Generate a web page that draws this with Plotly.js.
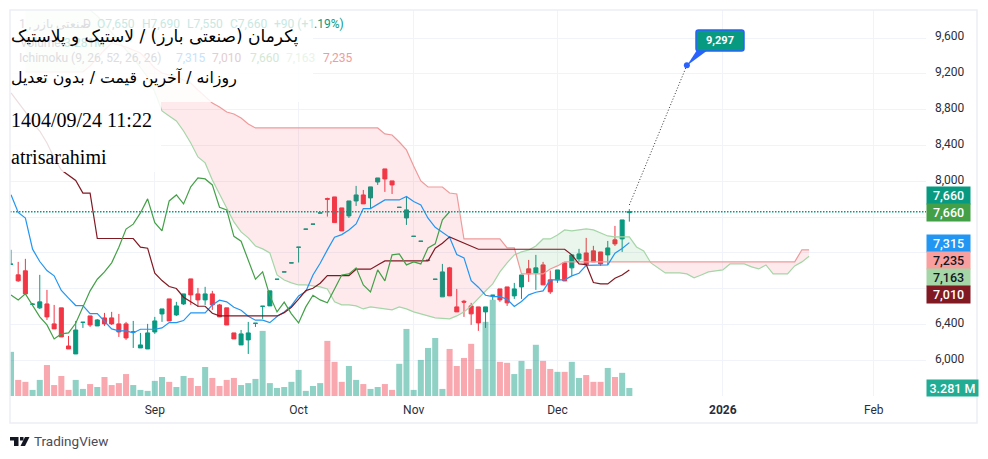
<!DOCTYPE html>
<html><head><meta charset="utf-8">
<script src="https://cdn.plot.ly/plotly-3.0.1.min.js"></script>
<style>html,body{margin:0;padding:0;background:#fff}#c{width:988px;height:459px}</style>
</head><body><div id="c"></div>
<script>
const open_ = [7073,6955,7000,6626,6586,6630,6407,6586,6160,6071,6424,6496,6384,6474,6474,6407,6407,6316,6138,6127,6317,6518,6686,6507,6630,6910,6742,6675,6742,6619,6586,6306,6172,6228,6413,6603,6608,6905,6987,7088,7263,7465,7521,7646,7808,7826,7703,7614,7781,7848,7815,7993,8139,8005,7709,7591,7385,7330,7117,6905,6709,7033,6597,6660,6608,6597,6541,6726,6798,6820,6720,6820,7022,6977,7066,6899,6899,7089,7033,7133,7200,7223,7211,7178,7346,7357,7650];
const high = [7235,7100,7134,6640,6955,6787,6619,6586,6272,6440,6425,6496,6462,6530,6541,6518,6429,6440,6306,6407,6485,6574,6686,6653,6742,6910,6809,6821,6776,6630,6586,6306,6339,6429,6414,6604,6776,6906,6988,7089,7264,7466,7522,7647,7818,7826,7703,7781,7949,7904,7938,8038,8139,8005,7710,7830,7386,7331,7118,6906,7077,7044,6798,6675,6642,6597,6597,6727,6798,6820,6865,6954,7122,7178,7100,7003,7010,7089,7178,7245,7368,7279,7211,7334,7502,7569,7690];
const low = [7073,6877,6742,6620,6574,6451,6351,6261,6127,6071,6362,6373,6384,6384,6395,6261,6228,6138,6138,6127,6295,6429,6440,6496,6619,6619,6597,6619,6563,6485,6395,6239,6172,6071,6373,6462,6608,6905,6987,7088,7093,7465,7521,7646,7606,7539,7446,7591,7725,7748,7692,7960,7882,7859,7709,7513,7385,7330,7117,6905,6709,6720,6541,6485,6396,6329,6362,6675,6653,6608,6686,6686,6876,6787,6843,6742,6865,6887,6943,7100,7066,7100,7055,7066,7278,7211,7550];
const close_ = [7074,6888,6742,6627,6653,6485,6351,6261,6127,6339,6425,6395,6451,6407,6407,6317,6250,6317,6172,6306,6440,6574,6440,6608,6742,6731,6675,6742,6619,6485,6395,6239,6295,6306,6414,6604,6776,6906,6988,7089,7264,7466,7522,7647,7800,7539,7446,7781,7848,7748,7938,8038,8027,7960,7710,7681,7386,7331,7118,6906,6988,6720,6541,6650,6519,6418,6597,6727,6675,6642,6798,6954,6966,7033,6843,6765,7010,6887,7178,7189,7066,7100,7077,7256,7301,7569,7660];
const volumeM = [18.1,6.6,5.8,2.5,6.6,12.7,4.5,8.2,2.5,6.6,2.9,4.9,3.7,7.8,4.5,5.3,9.0,4.5,2.5,2.1,6.2,7.8,5.8,3.7,8.2,7.4,4.1,11.9,7.4,4.1,6.6,7.4,4.5,5.3,7.0,26.7,5.3,3.3,3.7,5.8,10.7,2.1,4.1,5.3,22.6,14.0,5.8,12.3,6.6,4.9,2.9,3.7,4.9,2.5,13.2,27.5,2.5,14.8,19.7,23.8,2.9,19.3,12.3,15.6,21.4,11.1,30.4,39.5,14.0,13.6,9.0,14.4,11.1,21.0,14.4,11.1,9.9,9.9,14.0,7.4,8.6,5.8,5.8,11.5,7.8,9.5,3.281];
const tenkan = [7850,7652,7589,7242,7104,7003,6944,6780,6694,6612,6612,6522,6522,6433,6351,6328,6328,6306,6347,6347,6347,6362,6421,6421,6444,6530,6530,6530,6619,6671,6653,6593,6559,6492,6448,6448,6421,6490,6540,6610,6720,6768,6954,7085,7234,7375,7405,7457,7524,7696,7696,7744,7792,7792,7792,7830,7774,7737,7588,7487,7427,7375,7182,7144,6891,6817,6727,6712,6712,6683,6601,6657,6731,6761,6776,6899,6899,6899,6943,6973,7062,7062,7062,7066,7197,7249,7315];
const kijun = [8988,8887,8776,8652,8562,8429,8261,8127,8072,8010,7869,7869,7361,7361,7361,7361,7361,7361,7264,7253,6973,6891,6824,6802,6705,6653,6604,6604,6526,6496,6496,6496,6496,6496,6496,6496,6496,6496,6533,6593,6683,6779,6805,6861,6947,6947,6947,6947,7018,7018,7018,7066,7111,7111,7111,7111,7111,7111,7111,7252,7308,7379,7345,7316,7278,7241,7241,7241,7241,7241,7241,7241,7241,7241,7241,7241,7241,7241,7178,7077,7070,6869,6854,6854,6917,6954,7010];
const chikou = [6731,6675,6742,6619,6485,6395,6239,6295,6306,6414,6604,6776,6906,6988,7089,7264,7466,7522,7647,7804,7539,7446,7781,7848,7748,7938,8038,8027,7960,7710,7681,7386,7331,7118,6906,6988,6720,6541,6650,6519,6418,6597,6727,6675,6642,6798,6954,6966,7033,6843,6765,7010,6887,7178,7189,7066,7100,7077,7256,7301,7569,7660];
const leadA = [9971,9971,9971,9971,9971,9971,9971,9971,9971,9915,9848,9759,9658,9557,9468,9379,9278,9166,8999,8787,8731,8675,8563,8429,8273,8206,8016,7859,7692,7546,7435,7368,7278,7245,7200,6954,6898,6865,6842,6842,6831,6820,6798,6653,6619,6619,6608,6574,6597,6586,6574,6563,6597,6574,6541,6518,6496,6474,6468,6463,6496,6541,6608,6686,6775,6854,6988,7088,7178,7211,7233,7278,7356,7356,7401,7457,7446,7457,7468,7457,7424,7390,7379,7379,7379,7267,7222,7088,7032,6977,6977,6977,6965,6921,6954,6988,6999,7010,7077,7077,7077,7044,7021,7066,6965,6965,6965,7055,7100,7163];
const leadB = [9222,9222,9222,9222,9222,9222,9222,9222,9222,9289,9379,9468,9546,9524,9502,9468,9435,9356,9267,9211,9189,9166,9133,9099,9021,8943,8876,8831,8775,8753,8708,8641,8597,8597,8597,8597,8597,8597,8597,8597,8597,8597,8597,8597,8597,8597,8597,8597,8597,8597,8530,8518,8440,8351,8172,8004,7937,7937,7937,7870,7859,7356,7356,7356,7356,7356,7356,7256,7256,6965,6965,6965,6965,7021,7055,7100,7100,7100,7100,7100,7100,7100,7100,7100,7100,7100,7100,7100,7100,7100,7100,7100,7100,7100,7100,7100,7100,7100,7100,7100,7100,7100,7100,7100,7100,7100,7100,7100,7235,7235];
const leadStart = 2;
const priceTicks = [6000,6400,6800,7200,7600,8000,8400,8800,9200,9600];
const priceTickText = ['6,000','6,400','','','','8,000','8,400','8,800','9,200','9,600'];
const timeTickPos = [20,40,56,76,99,120];
const timeTickText = ['Sep','Oct','Nov','Dec','<b>2026</b>','Feb'];
const lastPrice = 7660;
const targetPrice = 9297;
const targetBar = 94;
const lineStartPrice = 7736;
const titleLines = ['پکرمان (صنعتی بارز) / لاستیک و پلاستیک','روزانه / آخرین قیمت / بدون تعدیل','1404/09/24 11:22','atrisarahimi'];

const W=988,H=459,L=10,R=926,T=10,B=396;
const px=x=>(x-L)/(R-L), py=y=>(B-y)/(B-T);
const UP='#089981',DN='#F23645';
const idx=close_.map((_,i)=>i);

// cloud polygons, split at the crossings of the two leading spans
function cloudPolys(){
  const polys=[];let cur=null,sign=0;
  for(let k=0;k<leadA.length;k++){
    const s=leadA[k]>=leadB[k]?1:-1,x=k+leadStart;
    if(s!==sign){
      let entry=null;
      if(cur){
        const d0=leadA[k-1]-leadB[k-1],d1=leadA[k]-leadB[k],t=d0/(d0-d1);
        const xx=x-1+t,yy=leadA[k-1]+t*(leadA[k]-leadA[k-1]);
        cur.xa.push(xx);cur.ya.push(yy);cur.xb.push(xx);cur.yb.push(yy);polys.push(cur);entry=[xx,yy];
      }
      cur={s:s,xa:[],ya:[],xb:[],yb:[]};
      if(entry){cur.xa.push(entry[0]);cur.ya.push(entry[1]);cur.xb.push(entry[0]);cur.yb.push(entry[1]);}
      sign=s;
    }
    cur.xa.push(x);cur.ya.push(leadA[k]);cur.xb.push(x);cur.yb.push(leadB[k]);
  }
  polys.push(cur);return polys;
}
const leadX=leadA.map((_,k)=>k+leadStart);
const line=(x,y,c)=>({type:'scatter',mode:'lines',x:x,y:y,yaxis:'y2',line:{color:c,width:1.2},hoverinfo:'skip',showlegend:false});

const traces=[{type:'bar',x:idx,y:volumeM,yaxis:'y',width:0.84,
  marker:{color:idx.map(i=>close_[i]>=open_[i]?'rgba(8,153,129,0.45)':'rgba(242,54,69,0.43)'),line:{width:0}},hoverinfo:'skip',showlegend:false}];
cloudPolys().forEach(p=>traces.push({type:'scatter',mode:'none',x:p.xa.concat(p.xb.slice().reverse()),y:p.ya.concat(p.yb.slice().reverse()),yaxis:'y2',fill:'toself',
  fillcolor:p.s>0?'rgba(67,160,71,0.11)':'rgba(244,67,84,0.11)',hoverinfo:'skip',showlegend:false}));
traces.push(line(leadX,leadA,'#A5D6A7'),line(leadX,leadB,'#EF9A9A'));
traces.push({type:'candlestick',x:idx,open:open_,high:high,low:low,close:close_,yaxis:'y2',
  increasing:{line:{color:UP,width:1},fillcolor:UP},decreasing:{line:{color:DN,width:1},fillcolor:DN},hoverinfo:'skip',showlegend:false});
traces.push(line(idx,tenkan,'#2196F3'),line(idx,kijun,'#801922'),line(chikou.map((_,i)=>i),chikou,'#43A047'));
traces.push({type:'scatter',mode:'lines',x:[idx.length-1,targetBar],y:[lineStartPrice,targetPrice],yaxis:'y2',line:{color:'#333',width:1,dash:'1px,2px'},hoverinfo:'skip',showlegend:false});
traces.push({type:'scatter',mode:'markers',x:[targetBar],y:[targetPrice],yaxis:'y2',marker:{color:'#2962FF',size:6},hoverinfo:'skip',showlegend:false});

// shape helpers in page pixels
const P=(pts)=>'M'+pts.map(p=>px(p[0])+','+py(p[1])).join(' L')+' Z';
const rect=(x0,y0,x1,y1,o)=>Object.assign({type:'rect',xref:'paper',yref:'paper',x0:px(x0),x1:px(x1),y0:py(y1),y1:py(y0),line:{width:0},layer:'above'},o);
const path=(d,fill,o)=>Object.assign({type:'path',xref:'paper',yref:'paper',path:d,fillcolor:fill,line:{width:0},layer:'above'},o||{});
function rounded(x0,y0,x1,y1,r){
  return 'M'+px(x0+r)+','+py(y0)+' L'+px(x1-r)+','+py(y0)+' Q'+px(x1)+','+py(y0)+' '+px(x1)+','+py(y0+r)+' L'+px(x1)+','+py(y1-r)+' Q'+px(x1)+','+py(y1)+' '+px(x1-r)+','+py(y1)+' L'+px(x0+r)+','+py(y1)+' Q'+px(x0)+','+py(y1)+' '+px(x0)+','+py(y1-r)+' L'+px(x0)+','+py(y0+r)+' Q'+px(x0)+','+py(y0)+' '+px(x0+r)+','+py(y0)+' Z';
}
const shapes=[
  rect(10,10,313,102,{fillcolor:'rgba(255,255,255,0.85)'}),
  rect(10,102,161,172,{fillcolor:'rgba(255,255,255,0.85)'}),
  {type:'line',xref:'paper',yref:'y2',x0:0,x1:1,y0:lastPrice,y1:lastPrice,line:{color:UP,width:1.4,dash:'1.5px,1.5px'},layer:'above'},
  rect(10,10,977,423,{fillcolor:'rgba(0,0,0,0)',line:{color:'#eceef5',width:1.5}}),
  path(P([[697,50],[708,50],[687,65.5]]),'#2962FF'),
  path(rounded(696,30,744,51,2.5),UP,{line:{color:'#2962FF',width:1.5}}),
  // TradingView mark
  path(P([[10,437],[18.5,437],[18.5,446],[14,446],[14,440.5],[10,440.5]]),'#131722'),
  path(P([[20,437],[23.5,437],[23.5,440.5],[20,440.5]]),'#131722'),
  path(P([[25,437],[29.5,437],[25,446],[20.5,446]]),'#131722')
];
const F='Roboto, sans-serif';
const note=(x,y,text,color,size,o)=>Object.assign({xref:'paper',yref:'paper',x:px(x),y:py(y),text:text,showarrow:false,xanchor:'left',yanchor:'middle',borderpad:0,font:{family:F,size:size,color:color}},o||{});
const badge=(y0,y1,text,bg,fg,x1)=>({xref:'paper',yref:'paper',x:px(926),y:py((y0+y1)/2),xanchor:'left',yanchor:'middle',width:(x1||969)-926,height:y1-y0,bgcolor:bg,borderpad:0,align:'center',valign:'middle',showarrow:false,text:text,font:{family:F,size:12.5,color:fg,weight:500}});
const annotations=[
  // faded legend rows
  note(18,24,'1 , صنعتی بازر','#dcdde1',12),note(82,24,'D','#dcdde1',12),
  note(96,24,'O7,650','#c8e8e2',12),note(141,24,'H7,690','#c8e8e2',12),note(186,24,'L7,550','#c8e8e2',12),note(229,24,'C7,660','#c8e8e2',12),
  note(273,24,'+90 (+1','#c8e8e2',12),note(313,24,'.19%)',UP,12),
  note(19,43,'Volume','#dcdde1',12),note(63,43,'3.281M','#c8e8e2',12),
  note(18,58,'Ichimoku (9, 26, 52, 26, 26)','#dcdde1',12),
  note(175,58,'7,315','#c7e3fb',12),note(211,58,'7,010','#e3cdcf',12),note(249,58,'7,660','#d3e8d4',12),note(285,58,'7,163','#e9f4e9',12),note(322,58,'7,235','#f29b9b',12),
  // title block
  note(10,36,titleLines[0],'#000',17,{font:{family:'DejaVu Sans',size:17,color:'#000'}}),
  note(10,78,titleLines[1],'#000',16,{font:{family:'DejaVu Sans',size:15.8,color:'#000'}}),
  note(10,120,titleLines[2],'#000',20,{font:{family:'Liberation Serif',size:20,color:'#000'}}),
  note(10,157,titleLines[3],'#000',20,{font:{family:'Liberation Serif',size:20,color:'#000'}}),
  // target tag
  {xref:'paper',yref:'paper',x:px(720),y:py(40.5),xanchor:'center',yanchor:'middle',text:'9,297',showarrow:false,font:{family:F,size:11,color:'#fff',weight:700}},
  // axis badges
  badge(187,204,'7,660',UP,'#fff'),
  badge(204,221,'7,660','#43A047','#fff'),
  badge(235,252,'7,315','#2196F3','#fff'),
  badge(252,269,'7,235','#FA9F9F','#131722'),
  badge(269,286,'7,163','#A5D6A7','#131722'),
  badge(286,303,'7,010','#801922','#fff'),
  badge(380,396,'3.281 M','#22AC94','#fff',977),
  note(33,441,'TradingView','#4a4c55',13.5)
];
Plotly.newPlot('c',traces,{
  width:W,height:H,autosize:false,paper_bgcolor:'#fff',plot_bgcolor:'#fff',showlegend:false,
  margin:{l:L,r:W-R,t:T,b:H-B,pad:0},boxgap:0.2,
  xaxis:{range:[-0.14,127.26],tickmode:'array',tickvals:timeTickPos,ticktext:timeTickText,showgrid:true,gridcolor:'#f0f3fa',gridwidth:1,zeroline:false,showline:false,ticks:'',rangeslider:{visible:false},tickfont:{family:F,size:12,color:'#2a2e39'},ticklabelstandoff:5,fixedrange:true},
  yaxis:{range:[0,158.3],showgrid:false,zeroline:false,showticklabels:false,ticks:'',fixedrange:true},
  yaxis2:{overlaying:'y',side:'right',range:[5601,9915],tickmode:'array',tickvals:priceTicks,ticktext:priceTickText,showgrid:true,gridcolor:'#f0f3fa',gridwidth:1,zeroline:false,showline:false,ticks:'',tickfont:{family:F,size:12,color:'#2a2e39'},ticklabelstandoff:8,ticklabelshift:-2,fixedrange:true},
  shapes:shapes,annotations:annotations
},{staticPlot:true,displayModeBar:false});
</script></body></html>
